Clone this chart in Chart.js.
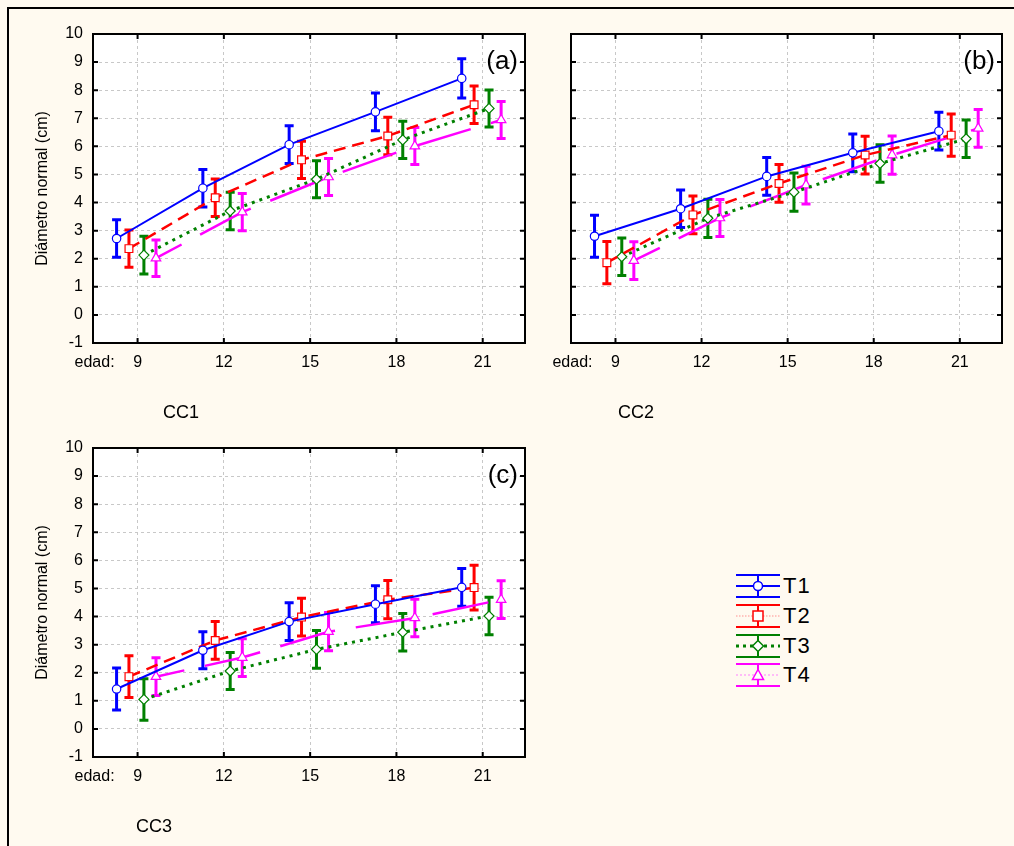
<!DOCTYPE html>
<html>
<head>
<meta charset="utf-8">
<script src="https://cdn.jsdelivr.net/npm/chart.js@4"></script>
<style>
html,body{margin:0;padding:0;width:1014px;height:846px;overflow:hidden;background:#FFFAF0;font-family:"Liberation Sans",Arial,sans-serif;}
#frame{position:absolute;left:7px;top:7px;width:1100px;height:900px;border-left:2px solid #000;border-top:2px solid #000;}
canvas{position:absolute;}
.lrow{position:absolute;left:736px;height:26px;}
.lrow svg{position:absolute;left:0;top:0;}
.lrow span{position:absolute;left:47px;top:0;line-height:26px;font-size:22px;color:#000;letter-spacing:1px;}
</style>
</head>
<body>
<div id="frame"></div>
<canvas id="cA" width="540" height="430" style="left:0;top:0"></canvas>
<canvas id="cB" width="469" height="430" style="left:545px;top:0"></canvas>
<canvas id="cC" width="540" height="431" style="left:0;top:415px"></canvas>
<div id="legend"></div>
<script>
// ---------------- DATA ----------------
const edades = [9, 12, 15, 18, 21];
const tratamientos = ['T1', 'T2', 'T3', 'T4'];
const yTickValues = [-1, 0, 1, 2, 3, 4, 5, 6, 7, 8, 9, 10];
const yTitle = 'Diámetro normal (cm)';
const xPrefix = 'edad:';

// CC1 (a)
const cc1_T1 = [2.72, 4.51, 6.06, 7.23, 8.42];
const cc1_T2 = [2.36, 4.17, 5.52, 6.37, 7.48];
const cc1_T3 = [2.13, 3.70, 4.83, 6.23, 7.35];
const cc1_T4 = [2.02, 3.66, 4.91, 6.01, 6.94];
const cc1_T1_err = [0.67, 0.67, 0.67, 0.67, 0.70];
const cc1_T2_err = [0.66, 0.67, 0.66, 0.67, 0.67];
const cc1_T3_err = [0.67, 0.67, 0.66, 0.66, 0.66];
const cc1_T4_err = [0.65, 0.66, 0.66, 0.66, 0.66];

// CC2 (b)
const cc2_T1 = [2.80, 3.78, 4.93, 5.77, 6.54];
const cc2_T2 = [1.86, 3.56, 4.68, 5.69, 6.40];
const cc2_T3 = [2.07, 3.44, 4.37, 5.39, 6.27];
const cc2_T4 = [1.93, 3.45, 4.62, 5.69, 6.64];
const cc2_T1_err = [0.75, 0.67, 0.67, 0.67, 0.67];
const cc2_T2_err = [0.75, 0.67, 0.67, 0.67, 0.75];
const cc2_T3_err = [0.67, 0.68, 0.68, 0.67, 0.67];
const cc2_T4_err = [0.67, 0.66, 0.67, 0.68, 0.67];

// CC3 (c)
const cc3_T1 = [1.42, 2.80, 3.82, 4.44, 5.04];
const cc3_T2 = [1.86, 3.15, 3.98, 4.60, 5.03];
const cc3_T3 = [1.05, 2.06, 2.83, 3.44, 4.02];
const cc3_T4 = [1.86, 2.54, 3.46, 3.95, 4.60];
const cc3_T1_err = [0.75, 0.66, 0.67, 0.66, 0.67];
const cc3_T2_err = [0.74, 0.67, 0.67, 0.68, 0.80];
const cc3_T3_err = [0.74, 0.66, 0.67, 0.67, 0.67];
const cc3_T4_err = [0.67, 0.67, 0.68, 0.67, 0.67];

// ---------------- STYLE ----------------
const STYLE = [
  {color:'#0000FF', dash:[], dashOffset:0, width:2, point:'circle', r:4.2, dx:-0.73},
  {color:'#FF0000', dash:[12,7], dashOffset:0, width:2.5, point:'rect', r:5.5, dx:-0.30},
  {color:'#008000', dash:[3,5], dashOffset:0, width:3, point:'rectRot', r:5, dx:0.22},
  {color:'#FF00FF', dash:[57,21], dashOffset:28, width:2.5, point:'triangle', r:5.5, dx:0.64}
];
const FONT = '"Liberation Sans", Arial, sans-serif';

const panelPlugin = {
  id: 'panelDeco',
  beforeDraw(chart) {
    const a = chart.chartArea, ctx = chart.ctx;
    ctx.save();
    ctx.fillStyle = '#FFFFFF';
    ctx.fillRect(a.left, a.top, a.right - a.left, a.bottom - a.top);
    ctx.restore();
  },
  beforeDatasetsDraw(chart) {
    const ctx = chart.ctx, xs = chart.scales.x, ys = chart.scales.y;
    ctx.save();
    chart.data.datasets.forEach(ds => {
      ctx.strokeStyle = ds.borderColor;
      ctx.lineWidth = 3;
      ctx.setLineDash([]);
      ctx.beginPath();
      ds.data.forEach((p, i) => {
        const e = ds.errors[i];
        const px = xs.getPixelForValue(p.x);
        const yt = ys.getPixelForValue(p.y + e);
        const yb = ys.getPixelForValue(p.y - e);
        ctx.moveTo(px, yt); ctx.lineTo(px, yb);
        ctx.moveTo(px - 4.5, yt); ctx.lineTo(px + 4.5, yt);
        ctx.moveTo(px - 4.5, yb); ctx.lineTo(px + 4.5, yb);
      });
      ctx.stroke();
    });
    ctx.restore();
  },
  afterDraw(chart) {
    const a = chart.chartArea, ctx = chart.ctx, xs = chart.scales.x, ys = chart.scales.y;
    const o = chart.options.plugins.panelDeco;
    ctx.save();
    ctx.strokeStyle = '#000'; ctx.lineWidth = 2; ctx.setLineDash([]);
    ctx.beginPath();
    yTickValues.forEach(v => {
      if (v === yTickValues[0] || v === yTickValues[yTickValues.length-1]) return;
      const py = ys.getPixelForValue(v);
      ctx.moveTo(a.left, py); ctx.lineTo(a.left + 5, py);
      ctx.moveTo(a.right - 5, py); ctx.lineTo(a.right, py);
    });
    edades.forEach(v => {
      const px = xs.getPixelForValue(v);
      ctx.moveTo(px, a.bottom); ctx.lineTo(px, a.bottom - 5);
      ctx.moveTo(px, a.top); ctx.lineTo(px, a.top + 5);
    });
    ctx.stroke();
    ctx.strokeRect(a.left, a.top, a.right - a.left, a.bottom - a.top);
    // texts
    ctx.fillStyle = '#000';
    ctx.font = '26px ' + FONT;
    ctx.textAlign = 'right'; ctx.textBaseline = 'alphabetic';
    ctx.fillText(o.letter, a.right - 7, a.top + 35);
    ctx.font = '16px ' + FONT;
    ctx.textAlign = 'right'; ctx.textBaseline = 'middle';
    ctx.fillText(xPrefix, xs.getPixelForValue(edades[0]) - 23, a.bottom + 20);
    ctx.font = '18px ' + FONT;
    ctx.textAlign = 'center';
    ctx.fillText(o.cc, a.left + o.ccDx, a.bottom + 70);
    ctx.restore();
  }
};

function buildDatasets(series, errs) {
  return series.map((vals, k) => {
    const s = STYLE[k];
    return {
      label: tratamientos[k],
      data: edades.map((e, i) => ({x: e + s.dx, y: vals[i]})),
      errors: errs[k],
      borderColor: s.color,
      backgroundColor: '#FFFFFF',
      borderWidth: s.width,
      borderDash: s.dash,
      borderDashOffset: s.dashOffset,
      tension: 0,
      pointStyle: s.point,
      pointRadius: s.r,
      pointBorderWidth: 1.2,
      pointBorderColor: s.color,
      pointBackgroundColor: '#FFFFFF'
    };
  });
}

function makePanel(canvasId, series, errs, p) {
  const cv = document.getElementById(canvasId);
  const W = cv.width, H = cv.height;
  new Chart(cv, {
    type: 'line',
    data: {datasets: buildDatasets(series, errs)},
    options: {
      responsive: false, animation: false, devicePixelRatio: 1,
      layout: {padding: {left: 0, top: p.top, right: W - p.right, bottom: 0}},
      plugins: {
        legend: {display: false}, tooltip: {enabled: false},
        panelDeco: {letter: p.letter, cc: p.cc, ccDx: p.ccDx}
      },
      scales: {
        x: {
          type: 'linear', min: 7.45, max: 22.47,
          afterBuildTicks: s => { s.ticks = edades.map(v => ({value: v})); },
          afterFit: s => { s.height = H - p.bottom; },
          grid: {color: '#C8C8C8', lineWidth: 1, drawTicks: false},
          border: {display: false, dash: [3, 3]},
          ticks: {color: '#000', font: {size: 16, family: FONT}, padding: 10, maxRotation: 0, autoSkip: false}
        },
        y: {
          type: 'linear', min: yTickValues[0], max: yTickValues[yTickValues.length-1],
          afterBuildTicks: s => { s.ticks = yTickValues.map(v => ({value: v})); },
          afterFit: s => { s.width = p.left; },
          grid: {color: '#C8C8C8', lineWidth: 1, drawTicks: false},
          border: {display: false, dash: [3, 3]},
          ticks: {display: p.yLabels, color: '#000', font: {size: 16, family: FONT}, padding: 10},
          title: {display: p.yLabels, text: yTitle, color: '#000', font: {size: 16, family: FONT}, padding: {top: 33, bottom: 0}}
        }
      }
    },
    plugins: [panelPlugin]
  });
}

makePanel('cA', [cc1_T1, cc1_T2, cc1_T3, cc1_T4], [cc1_T1_err, cc1_T2_err, cc1_T3_err, cc1_T4_err],
  {left: 93, top: 34, right: 525, bottom: 343, yLabels: true, letter: '(a)', cc: 'CC1', ccDx: 88});
makePanel('cB', [cc2_T1, cc2_T2, cc2_T3, cc2_T4], [cc2_T1_err, cc2_T2_err, cc2_T3_err, cc2_T4_err],
  {left: 26, top: 34, right: 457, bottom: 343, yLabels: false, letter: '(b)', cc: 'CC2', ccDx: 65});
makePanel('cC', [cc3_T1, cc3_T2, cc3_T3, cc3_T4], [cc3_T1_err, cc3_T2_err, cc3_T3_err, cc3_T4_err],
  {left: 93, top: 33, right: 525, bottom: 342, yLabels: true, letter: '(c)', cc: 'CC3', ccDx: 61});

// ---------------- LEGEND (HTML) ----------------
const legendMid = [
  {w: 2, dash: '', col: '#0000FF'},
  {w: 1, dash: '1.5,1.5', col: '#FF9090'},
  {w: 3, dash: '3,4', col: '#008000'},
  {w: 1, dash: '2,2', col: '#FF80FF'}
];
const rowTops = [573, 603, 633, 662];
function markerSvg(k, c) {
  const s = STYLE[k];
  if (s.point === 'circle') return `<circle cx="22" cy="13" r="4.5" fill="#fff" stroke="${c}" stroke-width="1.5"/>`;
  if (s.point === 'rect') return `<rect x="17" y="8" width="10" height="10" fill="#fff" stroke="${c}" stroke-width="1.5"/>`;
  if (s.point === 'rectRot') return `<polygon points="22,7.5 27.5,13 22,18.5 16.5,13" fill="#fff" stroke="${c}" stroke-width="1.5"/>`;
  return `<polygon points="22,7.5 27.5,17.5 16.5,17.5" fill="#fff" stroke="${c}" stroke-width="1.5"/>`;
}
const leg = document.getElementById('legend');
tratamientos.forEach((t, k) => {
  const c = STYLE[k].color, m = legendMid[k];
  const row = document.createElement('div');
  row.className = 'lrow';
  row.style.top = rowTops[k] + 'px';
  row.innerHTML =
    `<svg width="46" height="26" viewBox="0 0 46 26">` +
    `<line x1="0" y1="2" x2="44" y2="2" stroke="${c}" stroke-width="2"/>` +
    `<line x1="0" y1="24" x2="44" y2="24" stroke="${c}" stroke-width="2"/>` +
    `<line x1="22" y1="2" x2="22" y2="24" stroke="${c}" stroke-width="2"/>` +
    `<line x1="0" y1="13" x2="44" y2="13" stroke="${m.col}" stroke-width="${m.w}" ${m.dash ? `stroke-dasharray="${m.dash}"` : ''}/>` +
    markerSvg(k, c) +
    `</svg><span>${t}</span>`;
  leg.appendChild(row);
});
</script>
</body>
</html>
